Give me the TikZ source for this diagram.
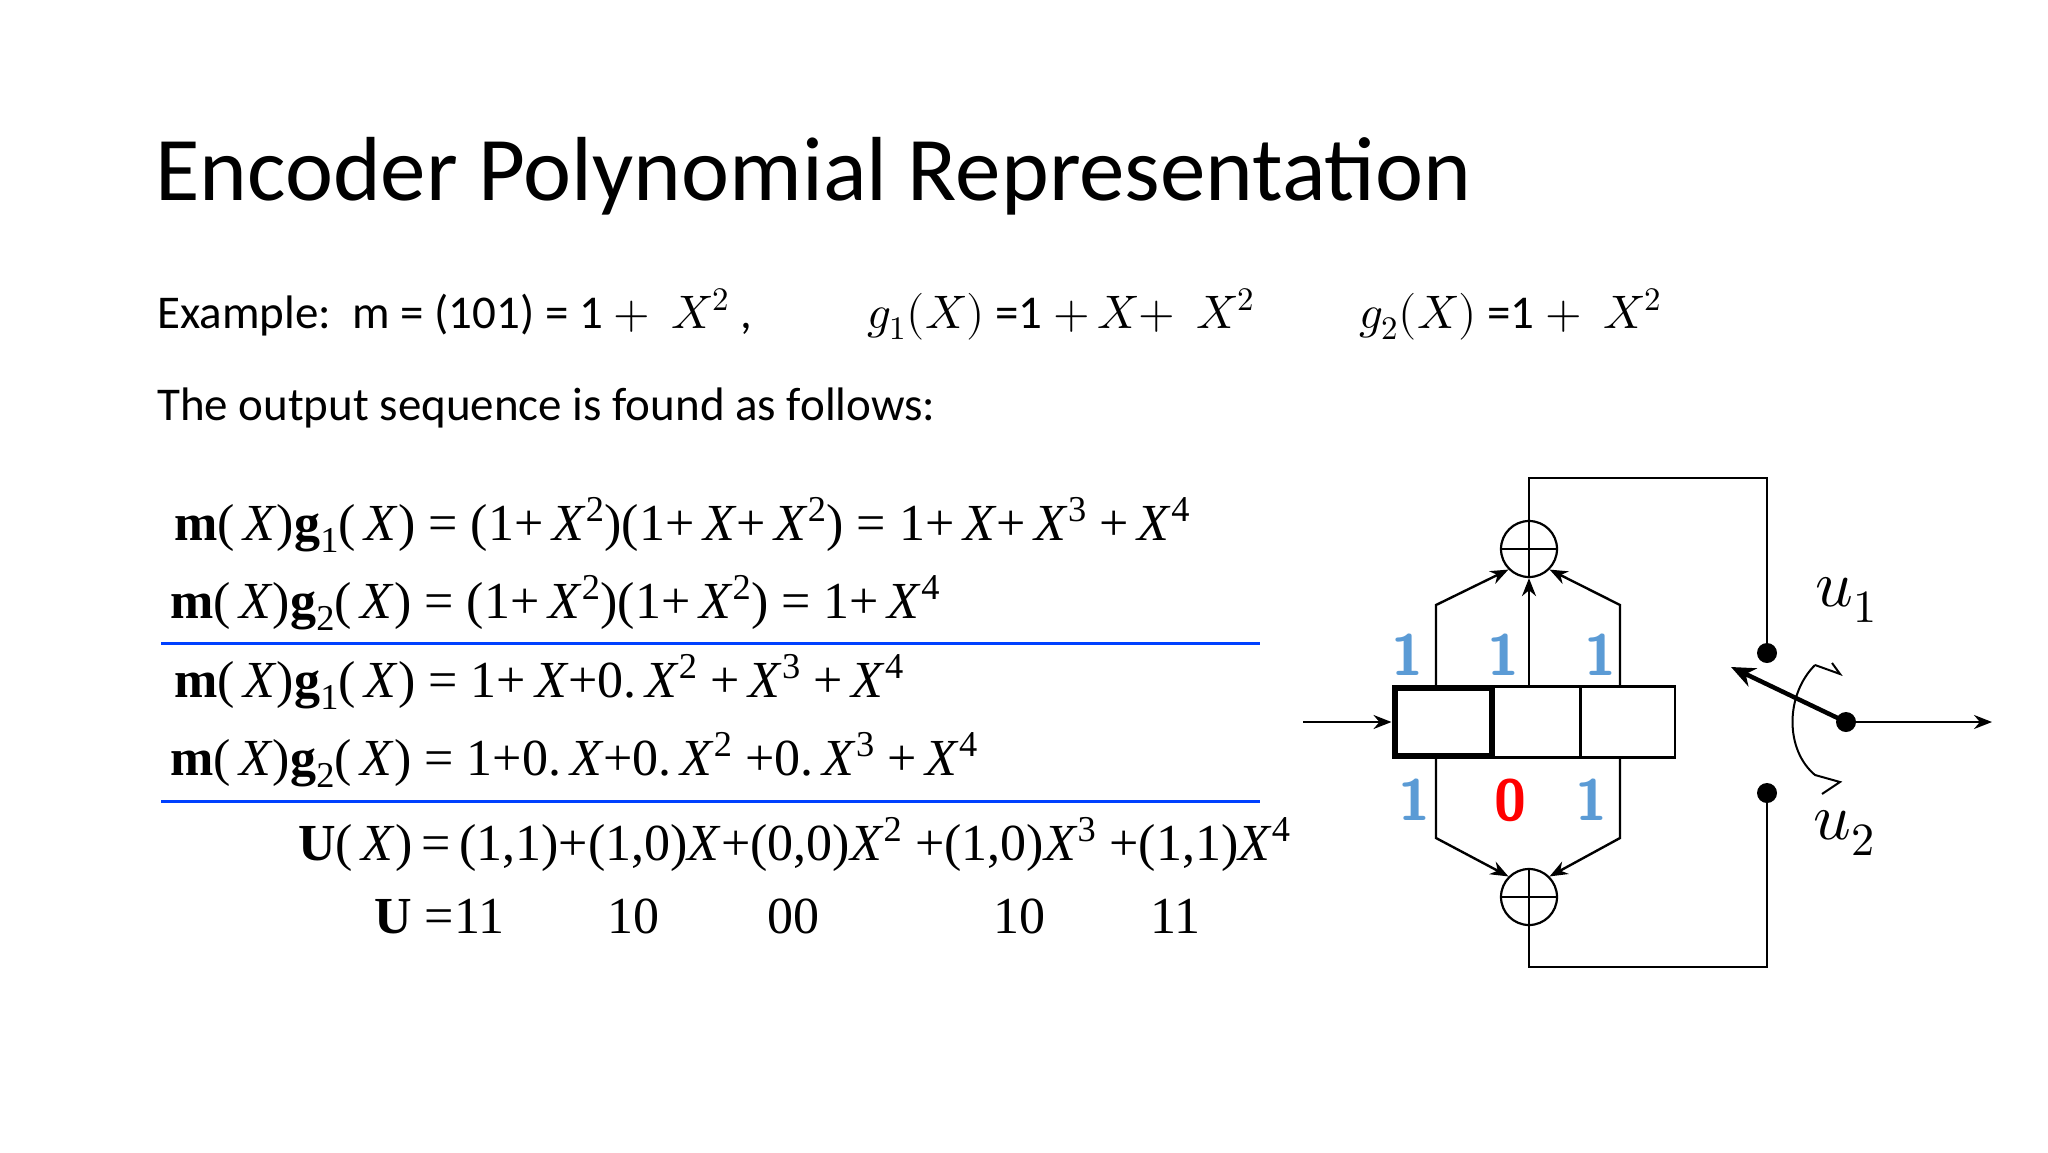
\documentclass[tikz,border=0pt]{standalone}
\usepackage{fontspec}
\usepackage{unicode-math}
\setmainfont{Carlito}
\setmathfont{Latin Modern Math}
\newfontfamily\eqfont{Liberation Serif}
\usetikzlibrary{arrows.meta}
\definecolor{tapblue}{HTML}{5B9BD5}
\newcommand{\X}{\,\textit{X}}
\newcommand{\bm}{\textbf{m}}
\newcommand{\sq}[1]{\textsuperscript{#1}}
\newcommand{\eqs}{\ =\ }
\begin{document}
\begin{tikzpicture}[x=1pt,y=-1pt,
    eq/.style={anchor=base west,inner sep=0pt,font=\eqfont\fontsize{52}{56}\selectfont},
    tap/.style={font=\sffamily\bfseries\fontsize{58}{60}\selectfont,text=tapblue,inner sep=0pt},
    wire/.style={line width=2.4pt},
    arr/.style={wire,-{Stealth[length=18pt,width=14pt]}},
    xorc/.style={circle,draw,line width=2.2pt,minimum size=56pt,inner sep=0pt,path picture={
        \draw[line width=2.2pt] (path picture bounding box.north) -- (path picture bounding box.south)
        (path picture bounding box.west) -- (path picture bounding box.east);}}]
  \useasboundingbox (0,0) rectangle (2048,1152);
  \fill[white] (0,0) rectangle (2048,1152);
  % title and intro
  \node[anchor=base west,inner sep=0pt,font=\fontsize{91}{96}\selectfont] (title) at (155,200) {Encoder Polynomial Representation};
  \node[anchor=base west,inner sep=0pt,font=\fontsize{47}{50}\selectfont] (ex) at (157,328)
    {Example:\ \ m = (101) = 1 $+$ \ $X^2$ ,\qquad\ \ $g_1(X)$ =1 $+\,X+$ \ $X^2$\qquad\ $g_2(X)$ =1 $+$ \ $X^2$};
  \node[anchor=base west,inner sep=0pt,font=\fontsize{47}{50}\selectfont] (out) at (157,420) {The output sequence is found as follows:};
  % equations
  \node[eq] (e1) at (174,540) {\bm(\X)\textbf{g}\textsubscript{1}(\X)\eqs(1+\X\sq{2})(1+\X+\X\sq{2})\eqs1+\X+\X\sq{3} +\X\sq{4}};
  \node[eq] (e2) at (170,618) {\bm(\X)\textbf{g}\textsubscript{2}(\X)\eqs(1+\X\sq{2})(1+\X\sq{2})\eqs1+\X\sq{4}};
  \node[eq] (e3) at (174,697) {\bm(\X)\textbf{g}\textsubscript{1}(\X)\eqs1+\X+0.\X\sq{2} +\X\sq{3} +\X\sq{4}};
  \node[eq] (e4) at (170,775) {\bm(\X)\textbf{g}\textsubscript{2}(\X)\eqs1+0.\X+0.\X\sq{2} +0.\X\sq{3} +\X\sq{4}};
  \node[eq] (e5) at (298,860) {\textbf{U}(\X)\,=\,(1,1)+(1,0)\textit{X}+(0,0)\textit{X}\sq{2} +(1,0)\textit{X}\sq{3} +(1,1)\textit{X}\sq{4}};
  \node[eq] (u0) at (374,933) {\textbf{U} =11};
  \foreach \name/\xx/\val in {ua/607/10,ub/767/00,uc/993/10,ud/1150/11}
    \node[eq] (\name) at (\xx,933) {\val};
  \draw[line width=3pt,blue!75!cyan] (161,643) -- (1260,643) (161,801) -- (1260,801);
  % shift register
  \node[draw,line width=6pt,minimum width=97pt,minimum height=68pt,inner sep=0pt] (r1) at (1443,722) {};
  \node[draw,line width=2.4pt,minimum width=89pt,minimum height=71pt,inner sep=0pt] (r2) at (1536,722) {};
  \node[draw,line width=2.4pt,minimum width=94pt,minimum height=71pt,inner sep=0pt] (r3) at (1628,722) {};
  \coordinate (in) at (1303,722);
  \draw[arr] (in) -- (r1.west);
  % adders
  \node[xorc] (top) at (1529,549) {};
  \node[xorc] (bot) at (1529,897) {};
  \draw[arr] (1436,687) -- (1436,605) -- (top.south west);
  \draw[arr] (1529,687) -- (top.south);
  \draw[arr] (1620,687) -- (1620,605) -- (top.south east);
  \draw[arr] (1436,758) -- (1436,838) -- (bot.north west);
  \draw[arr] (1620,758) -- (1620,838) -- (bot.north east);
  % switch
  \fill (1767,653) circle (10pt) coordinate (s1);
  \fill (1767,793) circle (10pt) coordinate (s2);
  \fill (1846,722) circle (10pt) coordinate (piv);
  \coordinate (outp) at (1992,722);
  \draw[wire] (top.north) |- (1767,478) -- (s1);
  \draw[wire] (bot.south) |- (1767,967) -- (s2);
  \draw[arr] (piv) -- (outp);
  \draw[line width=4.5pt,-{Stealth[length=24pt,width=20pt]}] (piv) -- (1731,667);
  \draw[line width=2pt] (1815,665) .. controls (1785,695) and (1785,750) .. (1815,775) -- (1840,782) -- (1822,794);
  \draw[line width=2pt] (1815,665) -- (1840,674) -- (1832,663);
  \node[font=\fontsize{66}{68}\selectfont] (u1) at (1846,600) {$u_1$};
  \node[font=\fontsize{66}{68}\selectfont] (u2) at (1844,833) {$u_2$};
  % tap labels
  \node[tap] (t1) at (1407,655) {1};
  \node[tap] (t2) at (1503,655) {1};
  \node[tap] (t3) at (1600,655) {1};
  \node[tap] (b1) at (1414,800) {1};
  \node[tap,text=red] (b2) at (1510,800) {0};
  \node[tap] (b3) at (1591,800) {1};
\end{tikzpicture}
\end{document}
